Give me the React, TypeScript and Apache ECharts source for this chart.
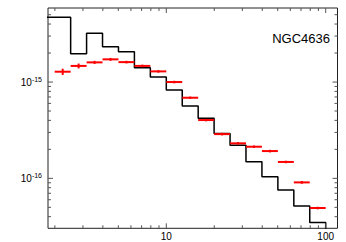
import React, { useEffect, useRef } from "react";
import * as echarts from "echarts";

// Black histogram (step) bins
const histEdges = [1.585, 2.512, 3.162, 3.981, 5.012, 6.31, 7.943, 10, 12.59, 15.85, 19.95, 25.12, 31.62, 39.81, 50.12, 63.1, 79.43, 100];
const histY = [4.7e-15, 1.97e-15, 3.21e-15, 2.33e-15, 2.06e-15, 1.41e-15, 1.13e-15, 8.26e-16, 5.63e-16, 4.2e-16, 2.93e-16, 2.2e-16, 1.49e-16, 1.04e-16, 7.57e-17, 5.15e-17, 3.49e-17];

// Red data points with error bars
const pointEdges = [1.995, 2.512, 3.162, 3.981, 5.012, 6.31, 7.943, 10, 12.59, 15.85, 19.95, 25.12, 31.62, 39.81, 50.12, 63.1, 79.43, 100];
const pointX = [2.239, 2.818, 3.548, 4.467, 5.623, 7.079, 8.913, 11.22, 14.13, 17.78, 22.39, 28.18, 35.48, 44.67, 56.23, 70.79, 89.13];
const pointY = [1.28e-15, 1.47e-15, 1.6e-15, 1.72e-15, 1.61e-15, 1.47e-15, 1.29e-15, 1.0e-15, 6.87e-16, 4.03e-16, 2.88e-16, 2.31e-16, 2.13e-16, 1.92e-16, 1.48e-16, 9.08e-17, 4.92e-17];
const pointErr = [0.095e-15, 0.085e-15, 0.06e-15, 0.06e-15, 0.05e-15, 0.045e-15, 0.04e-15, 0.03e-15, 0.02e-15, 0.012e-15, 0.009e-15, 0.007e-15, 0.0065e-15, 0.006e-15, 0.0045e-15, 0.003e-15, 0.0015e-15];

// Axis ticks
const xMajorTicks = [10, 100];
const xMinorTicks = [2, 3, 4, 5, 6, 7, 8, 9, 20, 30, 40, 50, 60, 70, 80, 90];
const yMajorTicks = [1e-16, 1e-15];
const yMinorTicks = [4e-17, 5e-17, 6e-17, 7e-17, 8e-17, 9e-17, 2e-16, 3e-16, 4e-16, 5e-16, 6e-16, 7e-16, 8e-16, 9e-16, 2e-15, 3e-15, 4e-15, 5e-15];

const X_MIN = 1.811;
const X_MAX = 118.6;
const Y_MIN = 3.03e-17;
const Y_MAX = 5.87e-15;

const TITLE = "NGC4636";

export default function App() {
  const ref = useRef<HTMLDivElement>(null);
  useEffect(() => {
    if (!ref.current) return;
    const chart = echarts.init(ref.current, undefined, { renderer: "svg" });

    const stepData: number[][] = [];
    histY.forEach((v, i) => {
      stepData.push([histEdges[i], v]);
      stepData.push([histEdges[i + 1], v]);
    });
    stepData.push([histEdges[histEdges.length - 1], 1e-17]);

    const errData = pointX.map((x, i) => [
      x,
      pointY[i],
      pointEdges[i],
      pointEdges[i + 1],
      pointY[i] - pointErr[i],
      pointY[i] + pointErr[i],
    ]);

    const tickColor = "#555";
    const xTickData = [
      ...xMajorTicks.map((v) => [v, 1e-16, 5]),
      ...xMinorTicks.map((v) => [v, 1e-16, 3]),
    ];
    const yTickData = [
      ...yMajorTicks.map((v) => [10, v, 5]),
      ...yMinorTicks.map((v) => [10, v, 3]),
    ];

    const isDecade = (v: number) => {
      const l = Math.log10(v);
      return Math.abs(l - Math.round(l)) < 1e-6;
    };

    const font = "Liberation Sans";

    chart.setOption({
      animation: false,
      grid: {
        left: 48,
        top: 8,
        width: 289.5,
        height: 220.3,
        show: true,
        borderColor: "#222",
        borderWidth: 1,
        backgroundColor: "transparent",
      },
      xAxis: {
        type: "log",
        min: X_MIN,
        max: X_MAX,
        axisLine: { show: false },
        axisTick: { show: false },
        splitLine: { show: false },
        axisLabel: {
          margin: 3,
          fontSize: 10,
          fontFamily: font,
          color: "#000",
          showMinLabel: true,
          showMaxLabel: true,
          formatter: (v: number) => (isDecade(v) ? String(Math.round(v)) : ""),
        },
      },
      yAxis: {
        type: "log",
        min: Y_MIN,
        max: Y_MAX,
        axisLine: { show: false },
        axisTick: { show: false },
        splitLine: { show: false },
        axisLabel: {
          margin: 6,
          fontSize: 10,
          fontFamily: font,
          color: "#000",
          formatter: (v: number) =>
            isDecade(v) ? "{base|10}{sup|" + Math.round(Math.log10(v)) + "}" : "",
          rich: {
            base: { fontSize: 10, fontFamily: font, color: "#000", lineHeight: 12, verticalAlign: "middle" },
            sup: { fontSize: 7, fontFamily: font, color: "#000", lineHeight: 7, verticalAlign: "top" },
          },
        },
      },
      graphic: [
        {
          type: "text",
          x: 330,
          y: 38.5,
          style: {
            text: TITLE,
            fontSize: 13,
            fontFamily: font,
            fill: "#000",
            align: "right",
            verticalAlign: "middle",
          },
        },
      ],
      series: [
        {
          type: "line",
          data: stepData,
          showSymbol: false,
          symbol: "none",
          lineStyle: { color: "#000", width: 1.5 },
          clip: true,
          z: 2,
        },
        {
          type: "custom",
          data: errData,
          encode: { x: [0, 2, 3], y: [1, 4, 5] },
          z: 3,
          renderItem: (params: any, api: any) => {
            const c = api.coord([api.value(0), api.value(1)]);
            const l = api.coord([api.value(2), api.value(1)]);
            const r = api.coord([api.value(3), api.value(1)]);
            const b = api.coord([api.value(0), api.value(4)]);
            const t = api.coord([api.value(0), api.value(5)]);
            return {
              type: "group",
              children: [
                {
                  type: "line",
                  shape: { x1: l[0], y1: c[1], x2: r[0], y2: c[1] },
                  style: { stroke: "#ff0000", lineWidth: 2 },
                },
                {
                  type: "line",
                  shape: { x1: c[0], y1: b[1], x2: c[0], y2: t[1] },
                  style: { stroke: "#ff0000", lineWidth: 2 },
                },
              ],
            };
          },
        },
        {
          type: "custom",
          data: xTickData,
          silent: true,
          z: 4,
          renderItem: (params: any, api: any) => {
            const p = api.coord([api.value(0), api.value(1)]);
            const len = api.value(2);
            const cs = params.coordSys;
            const yb = cs.y + cs.height;
            return {
              type: "group",
              children: [
                { type: "line", shape: { x1: p[0], y1: yb, x2: p[0], y2: yb - len }, style: { stroke: tickColor, lineWidth: 1 } },
                { type: "line", shape: { x1: p[0], y1: cs.y, x2: p[0], y2: cs.y + len }, style: { stroke: tickColor, lineWidth: 1 } },
              ],
            };
          },
        },
        {
          type: "custom",
          data: yTickData,
          silent: true,
          z: 4,
          renderItem: (params: any, api: any) => {
            const p = api.coord([api.value(0), api.value(1)]);
            const len = api.value(2);
            const cs = params.coordSys;
            const xr = cs.x + cs.width;
            return {
              type: "group",
              children: [
                { type: "line", shape: { x1: cs.x, y1: p[1], x2: cs.x + len, y2: p[1] }, style: { stroke: tickColor, lineWidth: 1 } },
                { type: "line", shape: { x1: xr, y1: p[1], x2: xr - len, y2: p[1] }, style: { stroke: tickColor, lineWidth: 1 } },
              ],
            };
          },
        },
      ],
    });
    return () => chart.dispose();
  }, []);
  return (
    <div
      ref={ref}
      style={{ position: "fixed", left: 0, top: 0, width: 346, height: 242, background: "#fff" }}
    />
  );
}
